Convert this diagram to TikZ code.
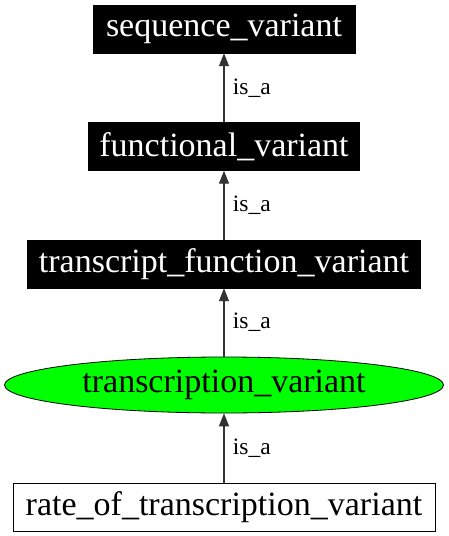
\documentclass[tikz,border=0pt]{standalone}
\usepackage{fontspec}
\setmainfont{Liberation Serif}
\usetikzlibrary{arrows.meta,shapes.geometric}
\tikzset{
  blackbox/.style={rectangle,fill=black,draw=black,text=white,inner sep=0pt,font=\fontsize{34}{40}\selectfont},
  plainbox/.style={rectangle,fill=white,draw=black,line width=1pt,inner sep=0pt,font=\fontsize{34}{40}\selectfont},
  greenell/.style={ellipse,fill=green,draw=black,line width=0.8pt,inner sep=0pt,font=\fontsize{34}{40}\selectfont},
  isaedge/.style={draw=black!80,line width=1.2pt,-{Triangle[length=13pt,width=10pt]}},
  isalabel/.style={font=\fontsize{23.5}{28}\selectfont,anchor=west,xshift=5pt}
}
\begin{document}
\begin{tikzpicture}[x=1pt,y=-1pt]
\useasboundingbox (0,0) rectangle (448,536);
\node[blackbox,minimum width=262pt,minimum height=48pt] (sv) at (224,29) {sequence\_variant};
\node[blackbox,minimum width=271pt,minimum height=48pt] (fv) at (224,146.5) {functional\_variant};
\node[blackbox,minimum width=393pt,minimum height=48pt] (tfv) at (224,264) {transcript\_function\_variant};
\node[greenell,minimum width=439pt,minimum height=56pt] (tv) at (224,385) {transcription\_variant};
\node[plainbox,minimum width=422pt,minimum height=48pt] (rtv) at (224,507) {rate\_of\_transcription\_variant};
\draw[isaedge] (fv.north) -- node[isalabel] {is\_a} (sv.south);
\draw[isaedge] (tfv.north) -- node[isalabel] {is\_a} (fv.south);
\draw[isaedge] (tv.north) -- node[isalabel] {is\_a} (tfv.south);
\draw[isaedge] (rtv.north) -- node[isalabel] {is\_a} (tv.south);
\end{tikzpicture}
\end{document}
